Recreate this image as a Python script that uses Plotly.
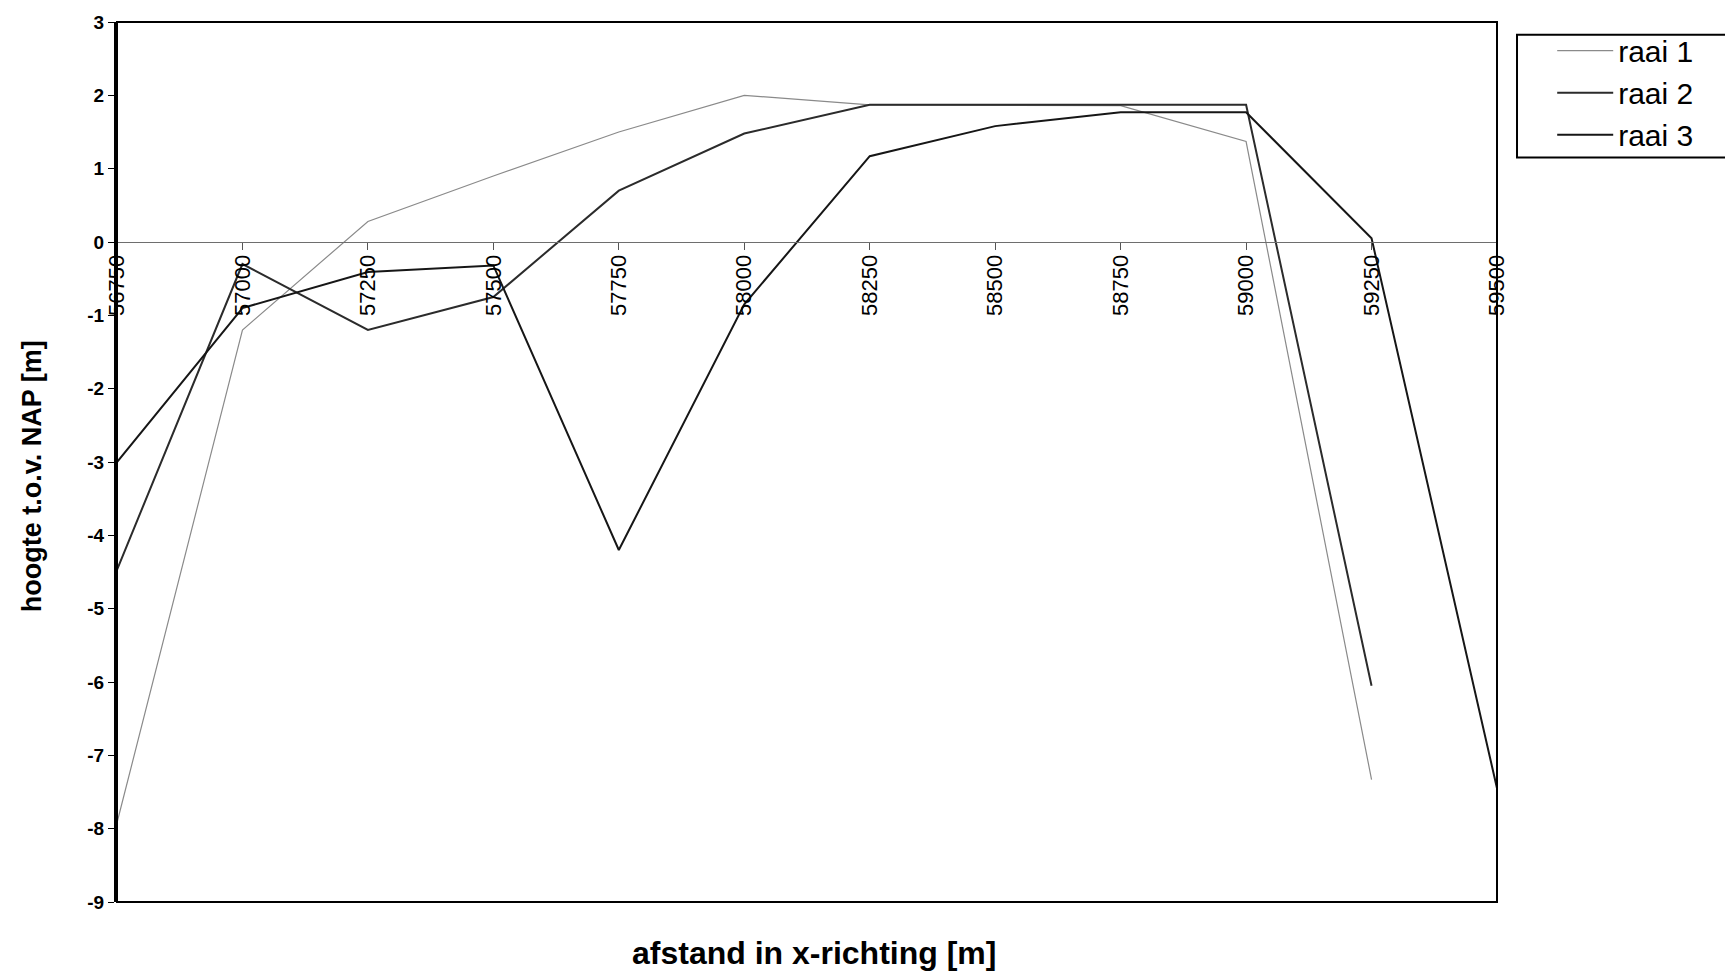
import plotly.graph_objects as go

# Cross-section distances (m) and bed heights relative to NAP (m)
afstand = [56750, 57000, 57250, 57500, 57750, 58000, 58250, 58500, 58750, 59000, 59250, 59500]
raai_1 = [-7.92, -1.2, 0.28, 0.9, 1.5, 2.0, 1.87, 1.87, 1.86, 1.37, -7.33]
raai_2 = [-4.47, -0.3, -1.2, -0.75, 0.7, 1.48, 1.87, 1.87, 1.87, 1.87, -6.05]
raai_3 = [-3.0, -0.9, -0.41, -0.32, -4.2, -0.85, 1.17, 1.58, 1.77, 1.77, 0.05, -7.45]
y_ticks = list(range(-9, 4))
y_ticktext = [str(v) for v in y_ticks]   # plain hyphen-minus, as in the original sheet

FONT = "Arial, Liberation Sans, sans-serif"

fig = go.Figure()
fig.add_trace(go.Scatter(x=afstand[:len(raai_1)], y=raai_1, name="raai 1", mode="lines",
                         line=dict(color="#8a8a8a", width=1.2)))
fig.add_trace(go.Scatter(x=afstand[:len(raai_2)], y=raai_2, name="raai 2", mode="lines",
                         line=dict(color="#2b2b2b", width=2)))
fig.add_trace(go.Scatter(x=afstand[:len(raai_3)], y=raai_3, name="raai 3", mode="lines",
                         line=dict(color="#161616", width=2)))

x_range = [afstand[0], afstand[-1]]
zero_pos = (0 - y_ticks[0]) / (y_ticks[-1] - y_ticks[0])

fig.update_layout(
    width=1725, height=973,
    margin=dict(l=117, r=228, t=19, b=71),
    paper_bgcolor="white", plot_bgcolor="white",
    font=dict(family=FONT, color="black"),
    showlegend=True,
    legend=dict(x=1.04, y=0.997, xanchor="left", yanchor="top",
                font=dict(size=30, family=FONT), bgcolor="rgba(0,0,0,0)",
                borderwidth=0, itemwidth=56, tracegroupgap=0),
    xaxis=dict(
        range=x_range, tickmode="array", tickvals=afstand,
        ticktext=[str(v) for v in afstand],
        anchor="free", position=zero_pos,
        showline=True, linecolor="#6e6e6e", linewidth=1,
        ticks="outside", ticklen=7, tickcolor="#555", tickwidth=1,
        tickangle=-90, tickfont=dict(size=22, family=FONT),
        ticklabelstandoff=-4,
        showgrid=False, zeroline=False,
    ),
    xaxis2=dict(
        range=x_range, tickmode="array", tickvals=afstand,
        overlaying="x", anchor="free", position=zero_pos,
        showline=False, ticks="inside", ticklen=7, tickcolor="#555", tickwidth=1,
        showticklabels=False, showgrid=False, zeroline=False,
    ),
    yaxis=dict(
        range=[y_ticks[0], y_ticks[-1]], tickmode="array", tickvals=y_ticks,
        ticktext=y_ticktext,
        showline=True, linecolor="black", linewidth=3,
        ticks="outside", ticklen=6, tickcolor="black",
        tickfont=dict(size=19, family=FONT, weight="bold"),
        showgrid=False, zeroline=False,
    ),
)

# Plot-area frame and legend frame
fig.add_shape(type="rect", xref="paper", yref="paper", x0=0, x1=1, y0=0, y1=1,
              line=dict(color="black", width=2), layer="above")
fig.add_shape(type="rect", xref="paper", yref="paper", x0=1.0145, x1=1.18, y0=0.846, y1=0.9856,
              line=dict(color="black", width=2))

# Axis titles
fig.add_annotation(text="hoogte t.o.v. NAP [m]", xref="paper", yref="paper",
                   x=-0.061, y=0.4836, xanchor="center", yanchor="middle", showarrow=False,
                   textangle=-90, font=dict(size=27, family=FONT, weight="bold"))
fig.add_annotation(text="afstand in x-richting [m]", xref="paper", yref="paper",
                   x=0.505, y=-0.058, xanchor="center", yanchor="middle", showarrow=False,
                   font=dict(size=32, family=FONT, weight="bold"))

fig.write_html("out.html")
